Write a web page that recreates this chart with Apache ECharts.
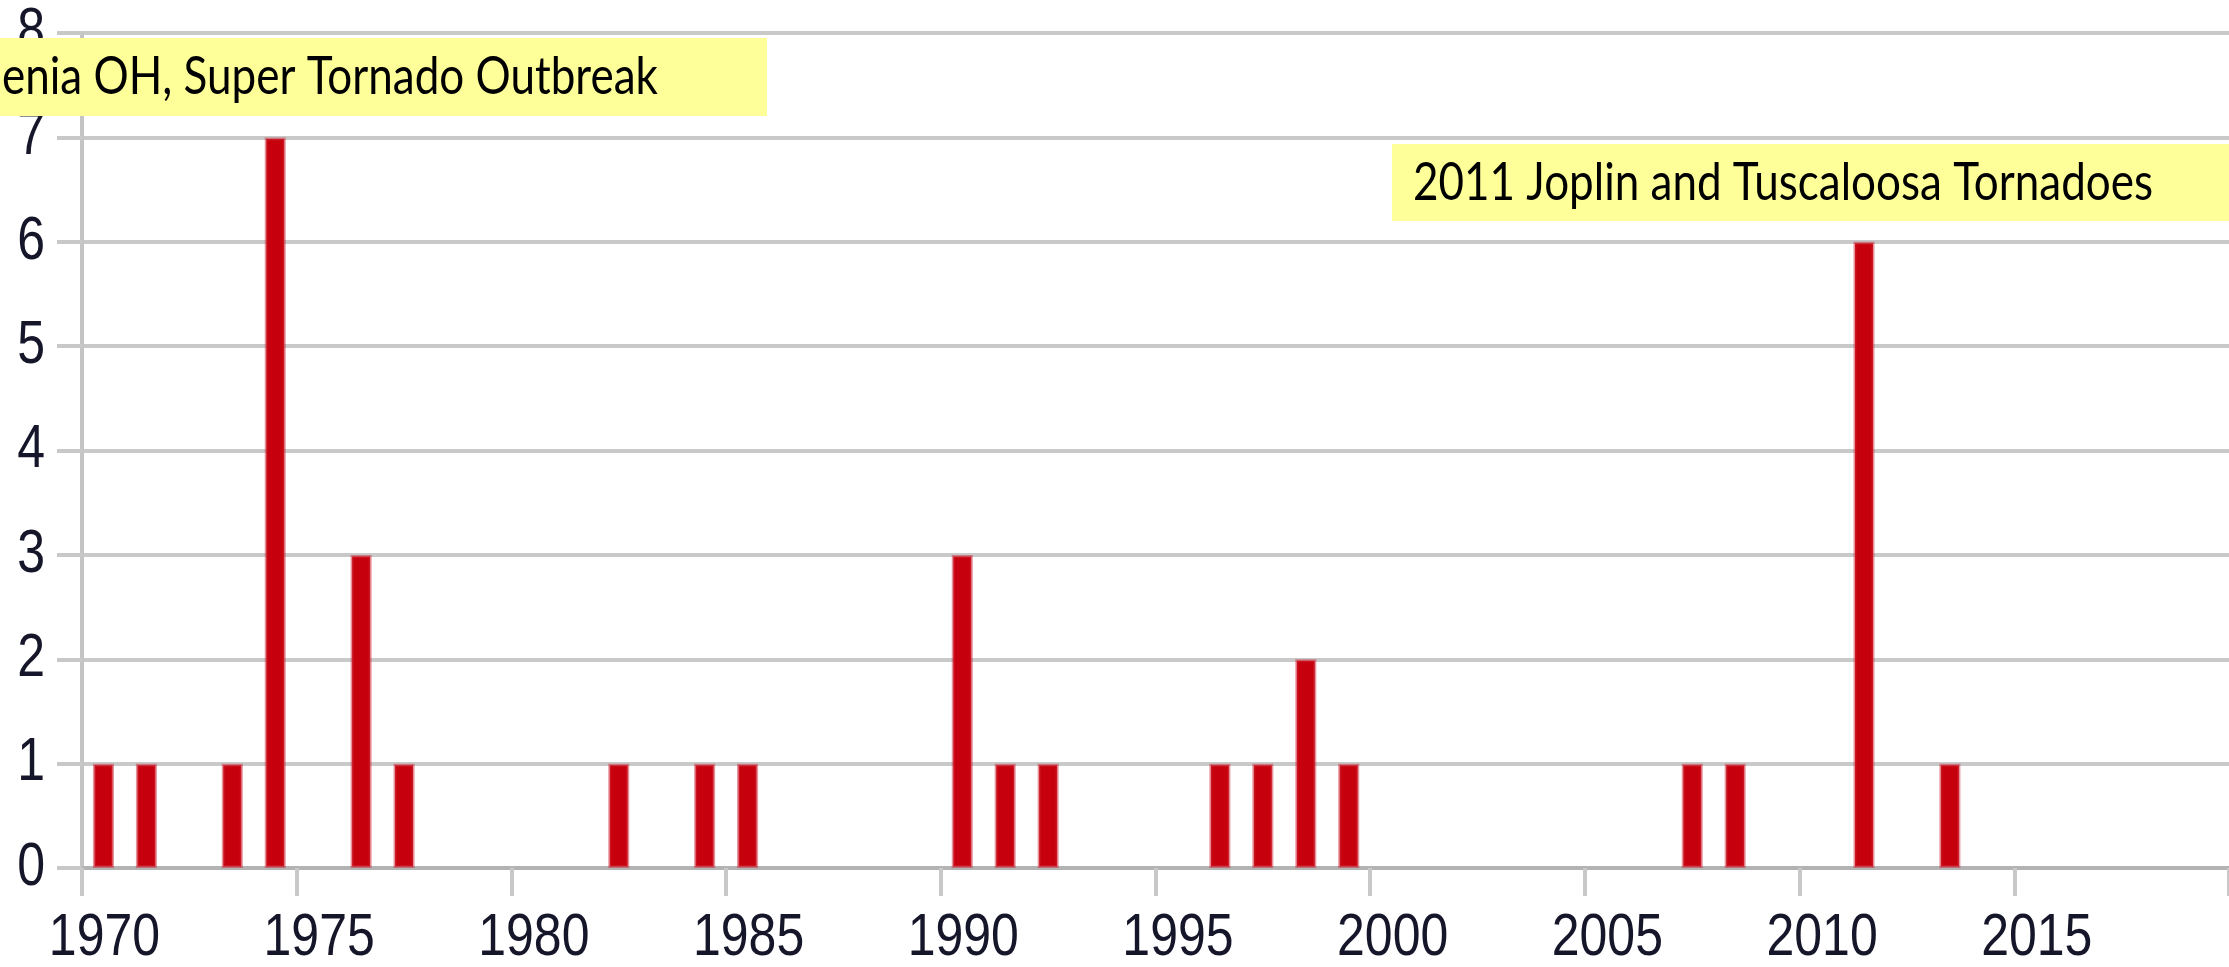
<!DOCTYPE html>
<html>
<head>
<meta charset="utf-8">
<title>Tornado deaths by year</title>
<script src="https://cdn.jsdelivr.net/npm/echarts@6/dist/echarts.min.js"></script>
<style>
  html, body { margin: 0; padding: 0; background: #ffffff; }
  #chart { width: 2229px; height: 967px; }
</style>
</head>
<body>
<div id="chart"></div>
<script>
// Years on the horizontal axis (one band per year)
const years = [
  1970, 1971, 1972, 1973, 1974, 1975, 1976, 1977, 1978, 1979,
  1980, 1981, 1982, 1983, 1984, 1985, 1986, 1987, 1988, 1989,
  1990, 1991, 1992, 1993, 1994, 1995, 1996, 1997, 1998, 1999,
  2000, 2001, 2002, 2003, 2004, 2005, 2006, 2007, 2008, 2009,
  2010, 2011, 2012, 2013, 2014, 2015, 2016, 2017, 2018, 2019
];

// Years that recorded at least one event, and the count for each
const eventYears  = [1970, 1971, 1973, 1974, 1976, 1977, 1982, 1984, 1985, 1990,
                     1991, 1992, 1996, 1997, 1998, 1999, 2007, 2008, 2011, 2013];
const eventCounts = [1, 1, 1, 7, 3, 1, 1, 1, 1, 3,
                     1, 1, 1, 1, 2, 1, 1, 1, 6, 1];

// Tick labels
const xTickLabels = [1970, 1975, 1980, 1985, 1990, 1995, 2000, 2005, 2010, 2015];
const yTicks = [0, 1, 2, 3, 4, 5, 6, 7, 8];

// Annotation captions
const noteLeft  = 'enia OH, Super Tornado Outbreak';
const noteRight = '2011 Joplin and Tuscaloosa Tornadoes';

// One entry per year; years without events stay empty
const seriesData = years.map(function (y) {
  const i = eventYears.indexOf(y);
  return i >= 0 ? eventCounts[i] : '-';
});

const labelFont = "'Liberation Sans', Arial, sans-serif";
const noteFont = "Lato, 'Open Sans', sans-serif";
const labelColor = '#16162a';

// Tick labels are drawn as tall, slightly condensed glyphs, so they are
// rendered by custom series placed with the axes' own coordinate mapping.
function xLabelItem(params, api) {
  const p = api.coord([api.value(0), 0]);
  return {
    type: 'text',
    x: p[0] + 1,
    y: p[1] + 70,
    scaleY: 1.2,
    style: {
      text: String(xTickLabels[params.dataIndex]),
      font: '50px ' + labelFont,
      fill: labelColor,
      textAlign: 'center',
      textVerticalAlign: 'middle'
    }
  };
}

function yLabelItem(params, api) {
  const p = api.coord([0, api.value(1)]);
  return {
    type: 'text',
    x: params.coordSys.x - 37,
    y: p[1],
    scaleY: 1.22,
    style: {
      text: String(api.value(1)),
      font: '50px ' + labelFont,
      fill: labelColor,
      textAlign: 'right',
      textVerticalAlign: 'middle'
    }
  };
}

const chart = echarts.init(document.getElementById('chart'), null, { renderer: 'canvas' });

chart.setOption({
  animation: false,
  backgroundColor: '#ffffff',
  grid: { left: 82, top: 33, width: 2177, height: 835, containLabel: false },
  xAxis: {
    type: 'category',
    data: years,
    boundaryGap: true,
    axisLine: { show: true, lineStyle: { color: '#b3b3b3', width: 4 } },
    axisTick: {
      show: true, interval: 4, alignWithLabel: false, length: 28,
      lineStyle: { color: '#c8c8c8', width: 4 }
    },
    axisLabel: { show: false },
    splitLine: { show: false }
  },
  yAxis: {
    type: 'value',
    min: yTicks[0],
    max: yTicks[yTicks.length - 1],
    interval: 1,
    axisLine: { show: true, lineStyle: { color: '#c4c4c4', width: 4 } },
    axisTick: { show: true, length: 25, lineStyle: { color: '#c8c8c8', width: 4 } },
    axisLabel: { show: false },
    splitLine: { show: true, lineStyle: { color: '#c9c9c9', width: 4 } }
  },
  series: [
    {
      type: 'bar',
      data: seriesData,
      barWidth: 21,
      itemStyle: {
        color: '#c6000c',
        borderColor: 'rgba(208, 40, 55, 0.5)',
        borderWidth: 3
      },
      z: 3
    },
    {
      type: 'custom',
      silent: true,
      clip: false,
      data: xTickLabels.map(function (y) { return [years.indexOf(y), 0]; }),
      renderItem: xLabelItem,
      z: 4
    },
    {
      type: 'custom',
      silent: true,
      clip: false,
      data: yTicks.map(function (v) { return [0, v]; }),
      renderItem: yLabelItem,
      z: 4
    }
  ],
  graphic: [
    {
      type: 'group',
      left: 0, top: 38, z: 100,
      children: [
        { type: 'rect', z: 100, shape: { x: 0, y: 0, width: 767, height: 78 },
          style: { fill: '#ffff99' } },
        { type: 'text', z: 101, x: 2, y: 39, scaleY: 1.18,
          style: { text: noteLeft, font: '44px ' + noteFont, fill: '#000000',
                   textVerticalAlign: 'middle' } }
      ]
    },
    {
      type: 'group',
      left: 1392, top: 144, z: 100,
      children: [
        { type: 'rect', z: 100, shape: { x: 0, y: 0, width: 837, height: 77 },
          style: { fill: '#ffff99' } },
        { type: 'text', z: 101, x: 21, y: 39, scaleY: 1.18,
          style: { text: noteRight, font: '44px ' + noteFont, fill: '#000000',
                   textVerticalAlign: 'middle' } }
      ]
    }
  ]
});
</script>
</body>
</html>
